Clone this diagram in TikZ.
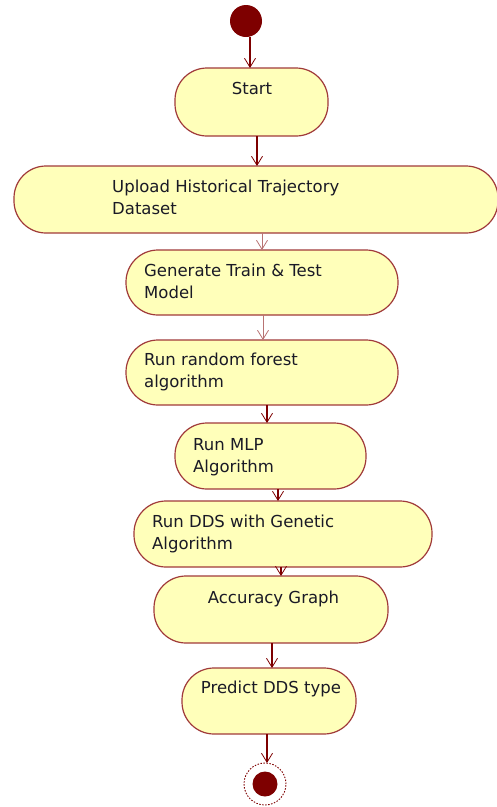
\documentclass[tikz,border=0pt]{standalone}
\usepackage{fontspec}
\setmainfont{DejaVu Sans}
\usetikzlibrary{arrows.meta}
\definecolor{actfill}{HTML}{FFFFBA}
\definecolor{actline}{HTML}{A03A3A}
\definecolor{flowred}{HTML}{7E0000}
\definecolor{inktext}{HTML}{1A1A26}
\tikzset{
  activity/.style={draw=actline, line width=1.2pt, fill=actfill,
    rounded corners=32pt, inner sep=0pt, outer sep=0pt},
  label/.style={font=\fontsize{16.5}{22}\selectfont, text=inktext,
    inner sep=0pt, anchor=base west},
  clabel/.style={label, anchor=base},
  flow/.style={draw=flowred, line width=1.6pt,
    -{Straight Barb[length=9pt,width=11pt,line width=0.8pt]}},
  softflow/.style={flow, draw=flowred!55, line width=1pt},
}
\begin{document}
\begin{tikzpicture}[x=1pt,y=-1pt]
\useasboundingbox (0,0) rectangle (496,807);

% initial and final states
\node (init) [circle, fill=flowred, minimum size=32pt, inner sep=0pt, outer sep=0pt] at (246,21) {};
\node (final) [circle, draw=flowred, dashed, dash pattern=on 1.5pt off 1.5pt, line width=0.9pt,
  minimum size=42pt, inner sep=0pt, outer sep=0pt] at (265,784) {};
\node (finaldot) [circle, fill=flowred, minimum size=25pt, inner sep=0pt] at (final.center) {};

% activities
\node (start)   [activity, minimum width=153pt, minimum height=68pt] at (251.5,102) {};
\node (upload)  [activity, minimum width=484pt, minimum height=67pt] at (256,199.5) {};
\node (gen)     [activity, minimum width=272pt, minimum height=65pt] at (262,282.5) {};
\node (rf)      [activity, minimum width=272pt, minimum height=65pt] at (262,372.5) {};
\node (mlp)     [activity, minimum width=191pt, minimum height=66pt] at (270.5,456) {};
\node (dds)     [activity, minimum width=298pt, minimum height=66pt] at (283,534) {};
\node (acc)     [activity, minimum width=234pt, minimum height=67pt] at (271,609.5) {};
\node (predict) [activity, minimum width=174pt, minimum height=66pt] at (269,701) {};

% activity texts
\node (tstart)   [clabel] at (252,94) {Start};
\node (tupload1) [label] at (112,192) {Upload Historical Trajectory};
\node (tupload2) [label] at (112,214) {Dataset};
\node (tgen1)    [label] at (144,276) {Generate Train \& Test};
\node (tgen2)    [label] at (144,298) {Model};
\node (trf1)     [label] at (144,365) {Run random forest};
\node (trf2)     [label] at (144,387) {algorithm};
\node (tmlp1)    [label] at (193,450) {Run MLP};
\node (tmlp2)    [label] at (193,472) {Algorithm};
\node (tdds1)    [label] at (152,527) {Run DDS with Genetic};
\node (tdds2)    [label] at (152,549) {Algorithm};
\node (tacc)     [clabel] at (273.5,603) {Accuracy Graph};
\node (tpredict) [clabel] at (271,693) {Predict DDS type};

% control flow
\draw[flow] (init.south -| 250,0) -- (start.north -| 250,0);
\draw[flow] (start.south -| 257,0) -- (upload.north -| 257,0);
\draw[softflow] (upload.south -| 262,0) -- (gen.north -| 262,0);
\draw[softflow] (gen.south -| 263,0) -- (rf.north -| 263,0);
\draw[flow] (rf.south -| 267,0) -- (mlp.north -| 267,0);
\draw[flow] (mlp.south -| 278,0) -- (dds.north -| 278,0);
\draw[flow] (dds.south -| 281,0) -- (acc.north -| 281,0);
\draw[flow] (acc.south -| 272,0) -- (predict.north -| 272,0);
\draw[flow] (predict.south -| 267,0) -- (final.north -| 267,0);
\end{tikzpicture}
\end{document}
